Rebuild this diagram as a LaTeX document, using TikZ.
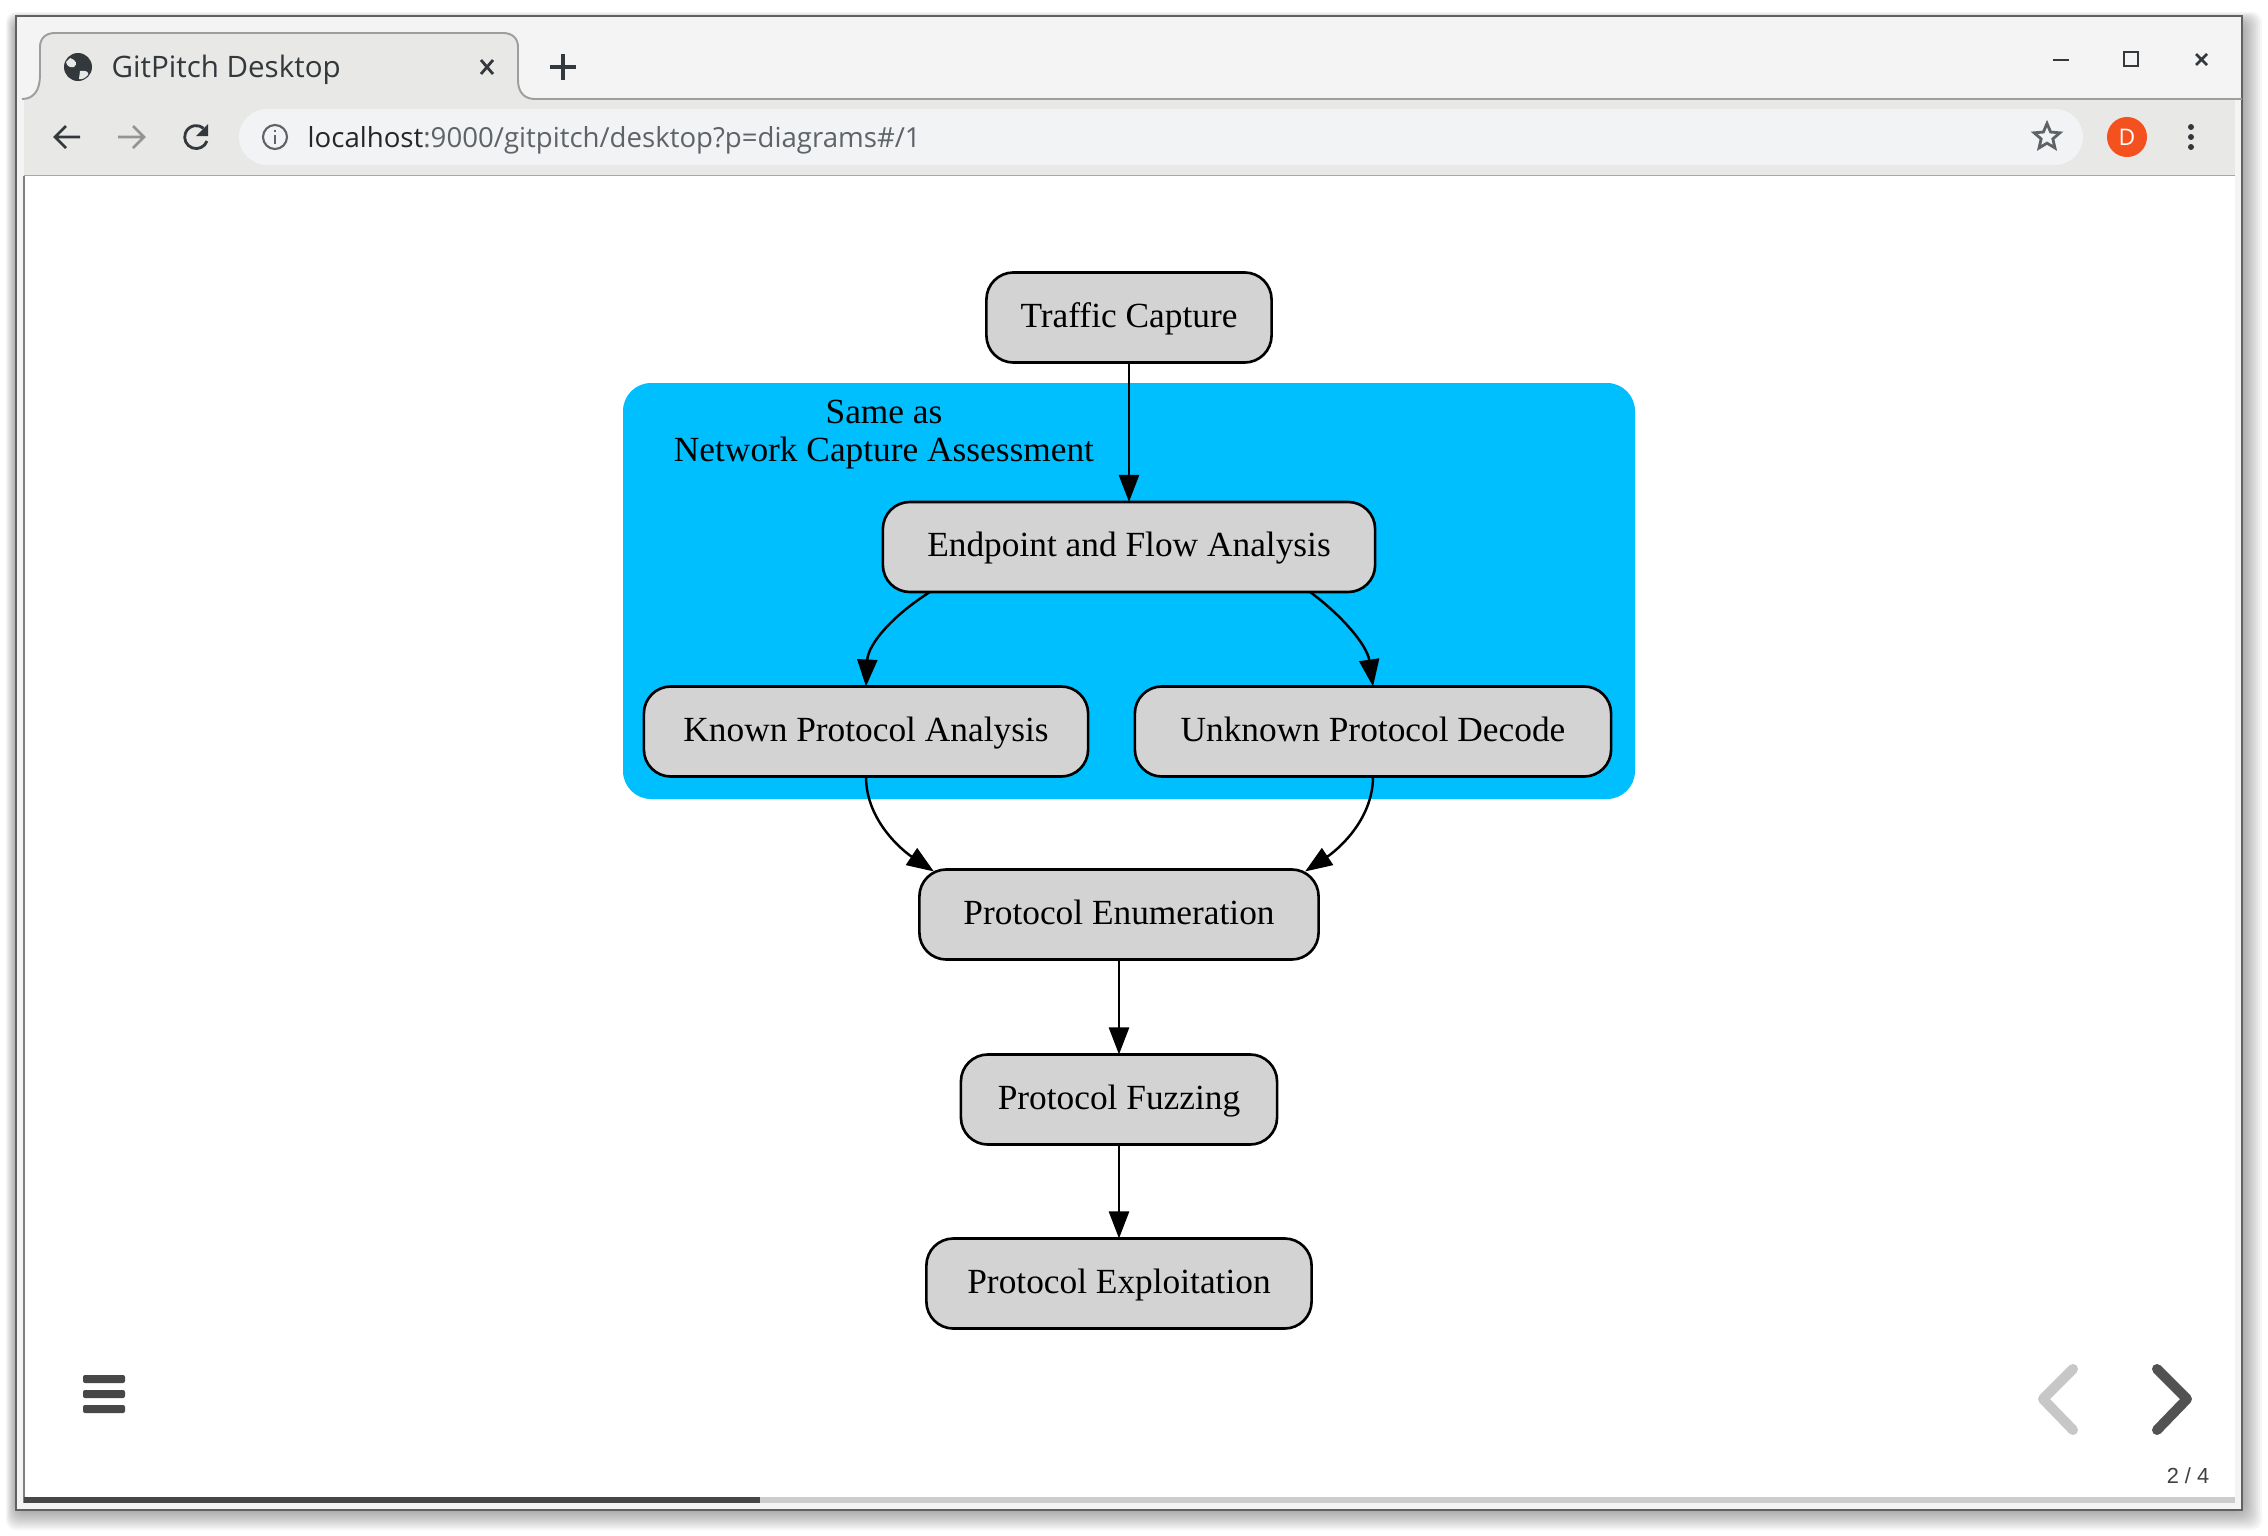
\documentclass[tikz,border=0pt]{standalone}
\usepackage{fontspec}
\setmainfont{Liberation Serif}
\newfontfamily\uifont{Open Sans}
\newfontfamily\pagefont{Liberation Sans}
\usetikzlibrary{arrows.meta,shapes.geometric}
\definecolor{barGray}{HTML}{F4F4F4}
\definecolor{toolGray}{HTML}{E8E8E6}
\definecolor{urlGray}{HTML}{F1F3F4}
\definecolor{iconDark}{HTML}{33383C}
\definecolor{iconGray}{HTML}{5F6368}
\definecolor{clusterBlue}{HTML}{00BFFF}
\definecolor{nodeGray}{HTML}{D3D3D3}
\definecolor{avatarRed}{HTML}{F4511E}
\tikzset{
  flowbox/.style={draw=black,fill=nodeGray,line width=0.75pt,rounded corners=0.27cm,
    minimum height=0.9cm,inner sep=0pt,outer sep=0pt,text height=7.3pt,text depth=1.8pt,
    font=\fontsize{10.05}{12}\selectfont},
  flowArrow/.style={-{Triangle[length=2.7mm,width=2mm]},line width=0.7pt},
  uitext/.style={inner sep=0pt},
  chromeIcon/.style={line width=0.75pt,draw=iconDark},
  navArrow/.style={line width=2.85pt,line cap=round,line join=round}
}

\begin{document}
\begin{tikzpicture}[x=0.01cm,y=-0.01cm]
  \useasboundingbox (0,0) rectangle (2268,1536);
  \fill[white] (0,0) rectangle (2268,1536);
  \foreach \d in {1,...,10}
    \fill[black,opacity=0.035,rounded corners=0.1cm] ({16-\d},{22-\d}) rectangle ({2242+2*\d},{1510+2*\d});

  \fill[barGray,draw=black!62,line width=0.5pt] (16,16) rectangle (2242,1510);
  \fill[toolGray] (24,99) rectangle (2235,176);
  \draw[black!35,line width=0.5pt] (24,176) -- (2235,176);
  \fill[white] (24,176) rectangle (2235,1503);
  \draw[black!50,line width=0.5pt] (24,176) -- (24,1503);

  \fill[toolGray] (22,99) .. controls (34,99) and (40,90) .. (40,75) -- (40,47)
    .. controls (40,38) and (46,33) .. (55,33) -- (503,33)
    .. controls (512,33) and (518,38) .. (518,47) -- (518,80)
    .. controls (518,92) and (524,99) .. (535,99) -- cycle;
  \draw[black!38,line width=0.55pt] (22,99) .. controls (34,99) and (40,90) .. (40,75) -- (40,47)
    .. controls (40,38) and (46,33) .. (55,33) -- (503,33)
    .. controls (512,33) and (518,38) .. (518,47) -- (518,80)
    .. controls (518,92) and (524,99) .. (535,99) -- (2242,99);

  \fill[iconDark] (78,67) circle[radius=14];
  \fill[toolGray] (70,58) .. controls (76,60) and (78,64) .. (74,67) .. controls (70,68) and (67,66) .. (66,62) -- cycle;
  \fill[toolGray] (80,71) .. controls (86,70) and (89,72) .. (88,75) .. controls (85,78) and (82,80) .. (79,79) -- cycle;
  \node[uitext,text=iconDark,anchor=west,font=\uifont\fontsize{8.4}{10}\selectfont] (tabTitle) at (111,70) {GitPitch Desktop};
  \draw[chromeIcon,line width=0.8pt] (481,60) -- (493,74) (493,60) -- (481,74);
  \draw[chromeIcon,line width=1pt] (563,54) -- (563,80) (550,67) -- (576,67);

  \draw[chromeIcon] (2053,60) -- (2069,60);
  \draw[chromeIcon] (2124,52) rectangle (2138,66);
  \draw[chromeIcon] (2196,54) -- (2207,65) (2207,54) -- (2196,65);

  \draw[chromeIcon,line width=0.8pt] (80,137) -- (55,137) (66,126) -- (55,137) -- (66,148);
  \draw[chromeIcon,draw=black!42,line width=0.8pt] (118,137) -- (144,137) (133,126) -- (144,137) -- (133,148);
  \draw[chromeIcon,line width=0.8pt] (207,141) arc[start angle=20,end angle=310,radius=11.5];
  \fill[iconDark] (208,124) -- (208,136) -- (196,136) -- cycle;

  \fill[urlGray,rounded corners=0.28cm] (239,109) rectangle (2083,165);
  \draw[chromeIcon,draw=iconGray,line width=0.6pt] (275,137) circle[radius=12];
  \draw[iconGray,line width=0.6pt] (275,135) -- (275,144) (275,130) -- (275,132);
  \node[uitext,anchor=west,font=\uifont\fontsize{7.85}{10}\selectfont] (urlText) at (307,140) {\textcolor{black!85}{localhost}\textcolor{iconGray}{:9000/gitpitch/desktop?p=diagrams\#/1}};
  \node[star,star points=5,star point ratio=2.2,draw=iconGray,line width=0.8pt,minimum size=0.27cm,inner sep=0pt] (starIcon) at (2047,137) {};
  \node[circle,fill=avatarRed,minimum size=0.4cm,inner sep=0pt,text=white,font=\uifont\fontsize{6.5}{8}\selectfont] (avatar) at (2127,137) {D};
  \foreach \y in {127,137,147}
    \fill[iconDark] (2191,\y) circle[radius=3];

  \fill[clusterBlue,rounded corners=0.28cm] (623,383) rectangle (1635,799);
  \node[align=center,inner sep=0pt,font=\fontsize{10.05}{10.8}\selectfont] (clusterLabel) at (884,435) {Same as\\Network Capture Assessment};

  \node[flowbox,minimum width=2.85cm] (traffic) at (1129,317.5) {Traffic Capture};
  \node[flowbox,minimum width=4.92cm] (endpoint) at (1129,547) {Endpoint and Flow Analysis};
  \node[flowbox,minimum width=4.44cm] (known) at (866,731.5) {Known Protocol Analysis};
  \node[flowbox,minimum width=4.76cm] (unknown) at (1373,731.5) {Unknown Protocol Decode};
  \node[flowbox,minimum width=3.99cm] (enumeration) at (1119,914.5) {Protocol Enumeration};
  \node[flowbox,minimum width=3.16cm] (fuzzing) at (1119,1099.5) {Protocol Fuzzing};
  \node[flowbox,minimum width=3.85cm] (exploitation) at (1119,1283.5) {Protocol Exploitation};

  \draw[flowArrow] (traffic) -- (endpoint);
  \draw[flowArrow] ([xshift=-1.99cm]endpoint.south) .. controls +(-38,24) and +(2,-42) .. (known.north);
  \draw[flowArrow] ([xshift=1.81cm]endpoint.south) .. controls +(30,22) and +(-6,-42) .. (unknown.north);
  \draw[flowArrow] (known.south) .. controls +(0,45) and +(-30,-20) .. ([xshift=-1.85cm,yshift=-0.02cm]enumeration.north);
  \draw[flowArrow] (unknown.south) .. controls +(0,45) and +(30,-20) .. ([xshift=1.86cm,yshift=-0.02cm]enumeration.north);
  \draw[flowArrow] (enumeration) -- (fuzzing);
  \draw[flowArrow] (fuzzing) -- (exploitation);

  \fill[black!72,rounded corners=0.02cm] (83,1375) rectangle (125,1383);
  \fill[black!72,rounded corners=0.02cm] (83,1390) rectangle (125,1398);
  \fill[black!72,rounded corners=0.02cm] (83,1405) rectangle (125,1413);
  \draw[navArrow,draw=black!22] (2073,1369) -- (2043,1399) -- (2073,1430);
  \draw[navArrow,draw=black!68] (2157,1369) -- (2187,1399) -- (2157,1430);
  \node[inner sep=0pt,text=black!75,font=\pagefont\fontsize{6.2}{8}\selectfont] (pageCount) at (2188,1476) {2 / 4};

  \fill[black!20] (24,1497) rectangle (2235,1503);
  \fill[black!72] (24,1497) rectangle (760,1503);
\end{tikzpicture}
\end{document}
